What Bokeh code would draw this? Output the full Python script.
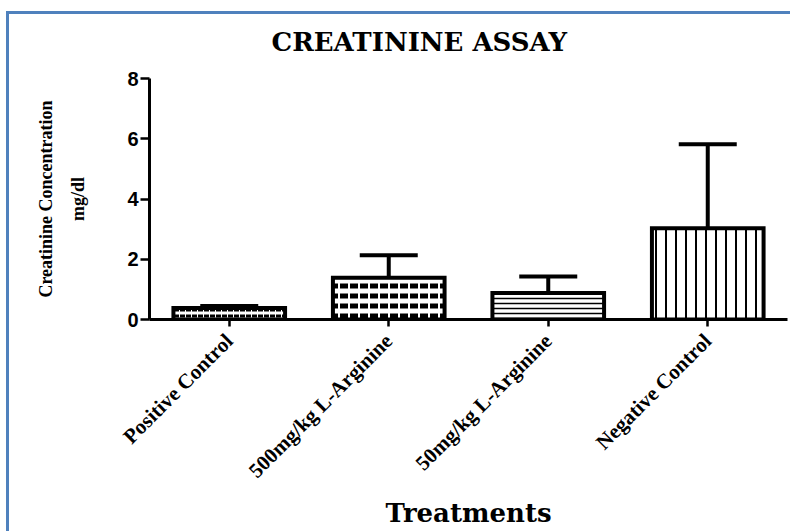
from math import pi
from bokeh.plotting import figure
from bokeh.models import (ColumnDataSource, Range1d, FixedTicker, Whisker, TeeHead,
                          Title, CDSView, IndexFilter)
from bokeh.embed import file_html
from bokeh.resources import INLINE

# ---- data ----
categories = ["Positive Control", "500mg/kg L-Arginine", "50mg/kg L-Arginine", "Negative Control"]
means = [0.38, 1.39, 0.88, 3.03]
errors = [0.07, 0.74, 0.55, 2.79]
y_ticks = [0, 2, 4, 6, 8]

positions = [i + 0.5 for i in range(len(categories))]
source = ColumnDataSource(dict(
    x=positions,
    mean=means,
    upper=[m + e for m, e in zip(means, errors)],
))

W, H = 790, 531
FL, FT, FB, FR = 149, 78, 211, 3   # frame borders

p = figure(width=W, height=H, output_backend="svg", toolbar_location=None,
           x_range=Range1d(0, 4), y_range=Range1d(0, 8),
           min_border_left=FL, min_border_top=FT, min_border_bottom=FB, min_border_right=FR)
p.outline_line_color = None
p.xgrid.visible = False
p.ygrid.visible = False
p.background_fill_color = "white"
p.border_fill_color = None
blue = "#4F81BD"
p.styles = {
    "background-color": "white",
    "background-image": f"linear-gradient({blue},{blue}), linear-gradient({blue},{blue})",
    "background-size": "3px 100%, 100% 3px",
    "background-position": "6px 11px, 6px 11px",
    "background-repeat": "no-repeat",
}

bar_styles = [
    dict(hatch_pattern="horizontal_dash", hatch_scale=6, hatch_weight=3),
    dict(hatch_pattern="horizontal_dash", hatch_scale=10, hatch_weight=5),
    dict(hatch_pattern="horizontal_line", hatch_scale=5, hatch_weight=1.5),
    dict(hatch_pattern="vertical_line", hatch_scale=10, hatch_weight=2),
]
for i, st in enumerate(bar_styles):
    p.vbar(x="x", top="mean", bottom=0, width=0.70, source=source,
           view=CDSView(filter=IndexFilter([i])),
           fill_color="white", line_color="black", line_width=4, line_join="miter",
           hatch_color="black", **st)

wh = Whisker(base="x", upper="upper", lower="mean", source=source,
             line_color="black", line_width=4,
             upper_head=TeeHead(size=58, line_width=4, line_color="black"),
             lower_head=None)
p.add_layout(wh)

# title
p.title.text = "CREATININE ASSAY"
p.title.align = "left"
p.title.offset = 122
p.title.text_font = "DejaVu Serif"
p.title.text_font_style = "bold"
p.title.text_font_size = "26px"
p.title.text_color = "black"
p.title.standoff = 44

# y axis
p.yaxis.ticker = FixedTicker(ticks=y_ticks)
p.yaxis.axis_line_width = 3
p.yaxis.major_tick_line_width = 2.5
p.yaxis.major_tick_out = 9
p.yaxis.major_tick_in = 0
p.yaxis.minor_tick_line_color = None
p.yaxis.major_label_text_font = "Liberation Sans"
p.yaxis.major_label_text_font_style = "bold"
p.yaxis.major_label_text_font_size = "20px"
p.yaxis.major_label_text_color = "black"
p.yaxis.major_label_standoff = 2
p.yaxis.axis_label = "mg/dl"
p.yaxis.axis_label_text_font = "Liberation Serif"
p.yaxis.axis_label_text_font_style = "bold"
p.yaxis.axis_label_text_font_size = "18px"
p.yaxis.axis_label_text_color = "black"
p.yaxis.axis_label_standoff = 36

p.add_layout(Title(text="Creatinine Concentration", align="center",
                   text_font="Liberation Serif", text_font_style="bold",
                   text_font_size="18px", text_color="black", standoff=20), "left")

# x axis
p.xaxis.ticker = FixedTicker(ticks=positions)
p.xaxis.major_label_overrides = {pos: c for pos, c in zip(positions, categories)}
p.xaxis.axis_line_width = 3
p.xaxis.major_tick_line_width = 2.5
p.xaxis.major_tick_out = 7
p.xaxis.major_tick_in = 0
p.xaxis.minor_tick_line_color = None
p.xaxis.major_label_orientation = pi / 4
p.xaxis.major_label_text_font = "Liberation Serif"
p.xaxis.major_label_text_font_style = "bold"
p.xaxis.major_label_text_font_size = "21px"
p.xaxis.major_label_text_color = "black"
p.xaxis.major_label_standoff = 11
p.xaxis.axis_label = "Treatments"
p.xaxis.axis_label_text_font = "DejaVu Serif"
p.xaxis.axis_label_text_font_style = "bold"
p.xaxis.axis_label_text_font_size = "26px"
p.xaxis.axis_label_text_color = "black"
p.xaxis.axis_label_standoff = 4

open("out.html", "w").write(file_html(p, INLINE))
